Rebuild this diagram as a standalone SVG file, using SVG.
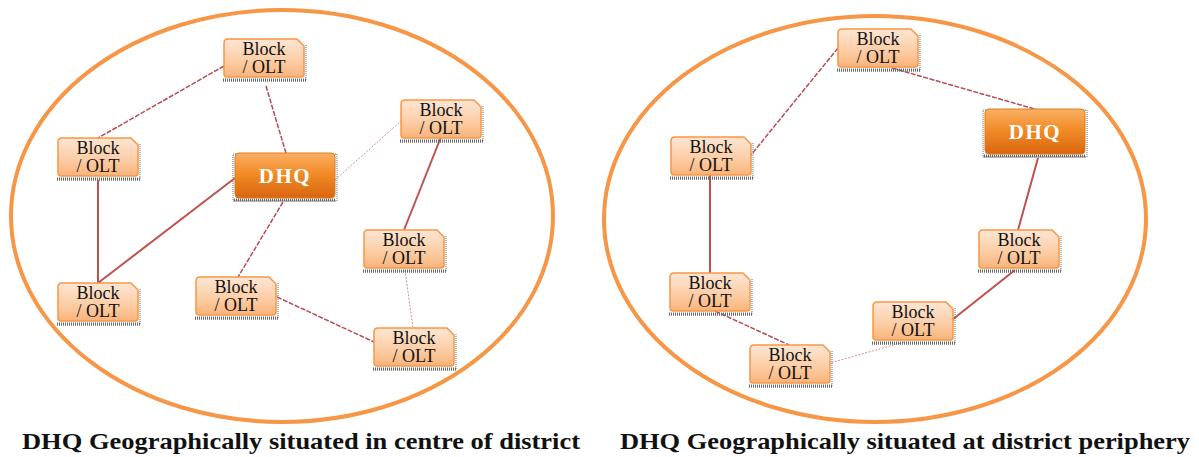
<svg xmlns="http://www.w3.org/2000/svg" xmlns:xlink="http://www.w3.org/1999/xlink" width="1199" height="457" viewBox="0 0 1199 457">
  <style>
    .district { fill: none; stroke: #f79646; stroke-width: 4; }
    .lbl { font-family: "Liberation Serif", "DejaVu Serif", serif; font-size: 18px; fill: #111; text-anchor: middle; }
    .hq { font-family: "Liberation Serif", "DejaVu Serif", serif; font-size: 21px; font-weight: bold; fill: #fff; text-anchor: middle; letter-spacing: 1.5px; }
    .cap { font-family: "Liberation Serif", "DejaVu Serif", serif; font-size: 24px; font-weight: bold; fill: #111; }
    .solid { stroke: #c0504d; stroke-width: 2; fill: none; }
    .dash { stroke: #b84a55; stroke-width: 1.5; stroke-dasharray: 5 1.5; fill: none; }
    .dot { stroke: #d98a8f; stroke-width: 1; stroke-dasharray: 2 1.5; fill: none; }
    .shade { fill: none; stroke: #777; stroke-width: 1; stroke-dasharray: 1 1; }
    .band { stroke: #666; stroke-width: 3; stroke-dasharray: 1 1; }
  </style>
  <defs>
    <linearGradient id="gBlock" x1="0" y1="0" x2="0" y2="1">
      <stop offset="0" stop-color="#fde6d4"/>
      <stop offset="0.6" stop-color="#fccca3"/>
      <stop offset="1" stop-color="#f9b37a"/>
    </linearGradient>
    <linearGradient id="gHq" x1="0" y1="0" x2="0" y2="1">
      <stop offset="0" stop-color="#fbb065"/>
      <stop offset="0.45" stop-color="#f28c28"/>
      <stop offset="1" stop-color="#d9650e"/>
    </linearGradient>
    <!-- block / OLT tile: snipped top-right corner, dotted drop shadow right and below -->
    <g id="blk">
      <path class="shade" d="M82,6 V42 H-1"/>
      <line class="band" x1="-1" y1="41" x2="82" y2="41"/>
      <path d="M4,0 H73 L80,7 V35 Q80,38 77,38 H3 Q0,38 0,35 V4 Q0,0 4,0 Z" fill="url(#gBlock)" stroke="#f79646" stroke-width="1.5"/>
    </g>
    <!-- headquarters tile -->
    <g id="hqTile">
      <rect class="shade" x="-2" y="1" width="104" height="47"/>
      <line class="band" x1="-1" y1="47" x2="101" y2="47"/>
      <rect x="0" y="0" width="100" height="45" rx="4" fill="url(#gHq)" stroke="#e07b1f" stroke-width="1"/>
    </g>
  </defs>

  <!-- district boundaries -->
  <ellipse class="district" cx="282" cy="216" rx="271" ry="206"/>
  <ellipse class="district" cx="875" cy="219" rx="271" ry="203"/>

  <!-- links -->
  <g id="connectors">
    <!-- centre layout -->
    <line class="dash" x1="224" y1="66" x2="98" y2="138"/>
    <line class="dash" x1="266" y1="86" x2="291" y2="170"/>
    <line class="solid" x1="235" y1="178" x2="98" y2="283"/>
    <line class="solid" x1="98" y1="180" x2="98" y2="283"/>
    <line class="dot" x1="335" y1="180" x2="401" y2="121"/>
    <line class="solid" x1="441" y1="137" x2="404" y2="230"/>
    <line class="dash" x1="283" y1="202" x2="238" y2="277"/>
    <line class="dash" x1="277" y1="297" x2="374" y2="342"/>
    <line class="dot" x1="405" y1="270" x2="413" y2="328"/>
    <!-- periphery layout -->
    <line class="dash" x1="838" y1="48" x2="751" y2="155"/>
    <line class="dash" x1="892" y1="68" x2="1038" y2="110"/>
    <line class="solid" x1="1038" y1="158" x2="1018" y2="230"/>
    <line class="solid" x1="710" y1="175" x2="710" y2="273"/>
    <line class="solid" x1="1015" y1="270" x2="952" y2="320"/>
    <line class="dash" x1="715" y1="311" x2="789" y2="345"/>
    <line class="dot" x1="904" y1="342" x2="830" y2="363"/>
  </g>

  <!-- centre layout nodes -->
  <g id="c-blk-top"><use xlink:href="#blk" x="224" y="39"/><text class="lbl" x="264" y="55">Block</text><text class="lbl" x="264" y="73">/ OLT</text></g>
  <g id="c-blk-left"><use xlink:href="#blk" x="58" y="138"/><text class="lbl" x="98" y="154">Block</text><text class="lbl" x="98" y="172">/ OLT</text></g>
  <g id="c-hq"><use xlink:href="#hqTile" x="235" y="153"/><text class="hq" x="285" y="183">DHQ</text></g>
  <g id="c-blk-rtop"><use xlink:href="#blk" x="401" y="100"/><text class="lbl" x="441" y="116">Block</text><text class="lbl" x="441" y="134">/ OLT</text></g>
  <g id="c-blk-rmid"><use xlink:href="#blk" x="364" y="230"/><text class="lbl" x="404" y="246">Block</text><text class="lbl" x="404" y="264">/ OLT</text></g>
  <g id="c-blk-bleft"><use xlink:href="#blk" x="58" y="283"/><text class="lbl" x="98" y="299">Block</text><text class="lbl" x="98" y="317">/ OLT</text></g>
  <g id="c-blk-bmid"><use xlink:href="#blk" x="196" y="277"/><text class="lbl" x="236" y="293">Block</text><text class="lbl" x="236" y="311">/ OLT</text></g>
  <g id="c-blk-bright"><use xlink:href="#blk" x="374" y="328"/><text class="lbl" x="414" y="344">Block</text><text class="lbl" x="414" y="362">/ OLT</text></g>

  <!-- periphery layout nodes -->
  <g id="p-blk-top"><use xlink:href="#blk" x="838" y="29"/><text class="lbl" x="878" y="45">Block</text><text class="lbl" x="878" y="63">/ OLT</text></g>
  <g id="p-hq"><use xlink:href="#hqTile" x="985" y="109"/><text class="hq" x="1035" y="139">DHQ</text></g>
  <g id="p-blk-left"><use xlink:href="#blk" x="671" y="137"/><text class="lbl" x="711" y="153">Block</text><text class="lbl" x="711" y="171">/ OLT</text></g>
  <g id="p-blk-rmid"><use xlink:href="#blk" x="979" y="230"/><text class="lbl" x="1019" y="246">Block</text><text class="lbl" x="1019" y="264">/ OLT</text></g>
  <g id="p-blk-bleft"><use xlink:href="#blk" x="670" y="273"/><text class="lbl" x="710" y="289">Block</text><text class="lbl" x="710" y="307">/ OLT</text></g>
  <g id="p-blk-mid"><use xlink:href="#blk" x="873" y="302"/><text class="lbl" x="913" y="318">Block</text><text class="lbl" x="913" y="336">/ OLT</text></g>
  <g id="p-blk-bottom"><use xlink:href="#blk" x="750" y="345"/><text class="lbl" x="790" y="361">Block</text><text class="lbl" x="790" y="379">/ OLT</text></g>

  <!-- captions -->
  <text class="cap" x="22" y="449" textLength="558" lengthAdjust="spacingAndGlyphs">DHQ Geographically situated in centre of district</text>
  <text class="cap" x="620" y="449" textLength="570" lengthAdjust="spacingAndGlyphs">DHQ Geographically situated at district periphery</text>
</svg>
